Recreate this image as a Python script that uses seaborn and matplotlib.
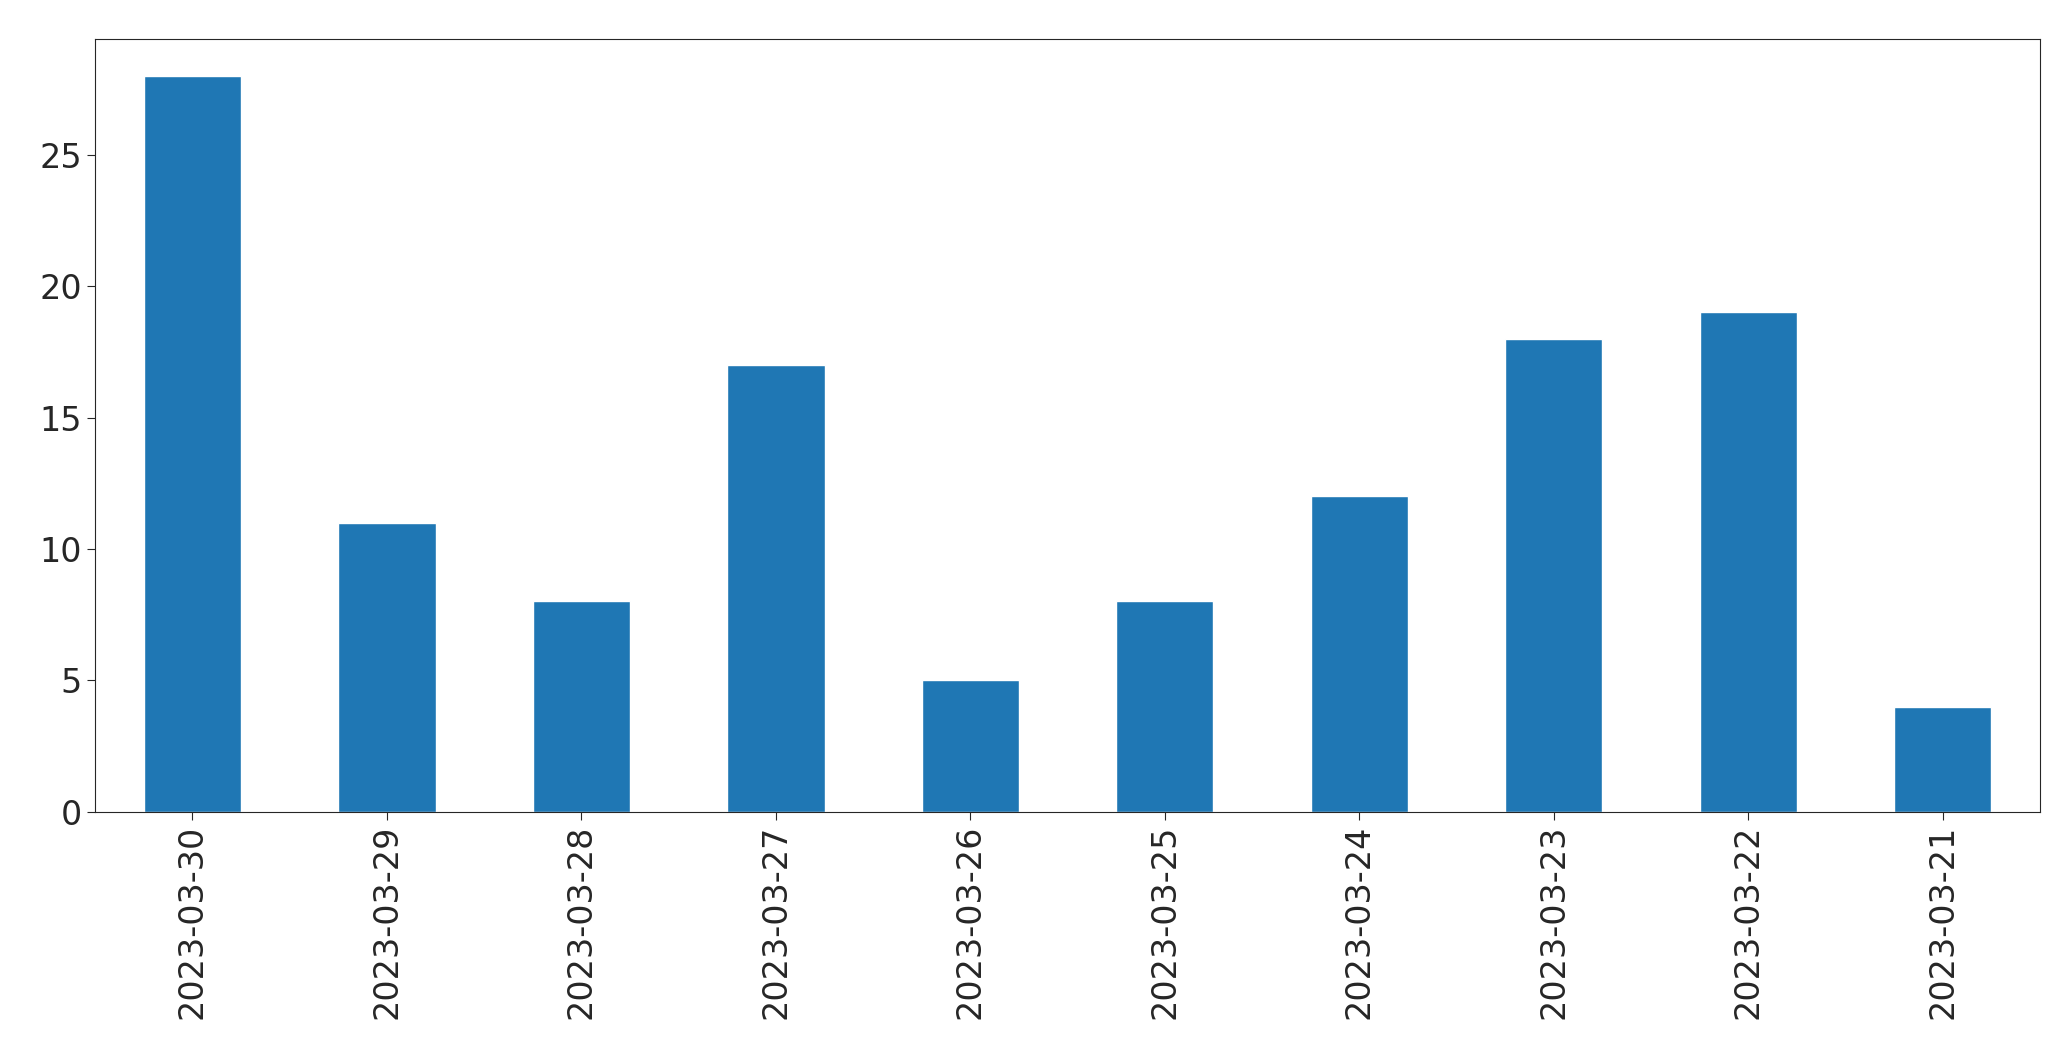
import matplotlib
matplotlib.use("Agg")
import matplotlib.pyplot as plt
import seaborn as sns
import pandas as pd

dates = ["2023-03-30", "2023-03-29", "2023-03-28", "2023-03-27", "2023-03-26",
         "2023-03-25", "2023-03-24", "2023-03-23", "2023-03-22", "2023-03-21"]
counts = [28, 11, 8, 17, 5, 8, 12, 18, 19, 4]

df = pd.DataFrame({"date": dates, "count": counts})

sns.set_style("ticks")
plt.rcParams["font.family"] = ["DejaVu Sans"]

fig, ax = plt.subplots(figsize=(20.71, 10.61), dpi=100)
sns.barplot(data=df, x="date", y="count", order=dates, color="#1f77b4",
            saturation=1, width=0.5, ax=ax)
ax.set_xlim(-0.5, len(dates) - 0.5)
ax.set_xlabel("")
ax.set_ylabel("")
ax.tick_params(axis="both", labelsize=24, length=6)
ax.tick_params(axis="x", rotation=90)
fig.subplots_adjust(left=0.046, right=0.985, top=0.963, bottom=0.235)
fig.savefig("out.png", dpi=100)
